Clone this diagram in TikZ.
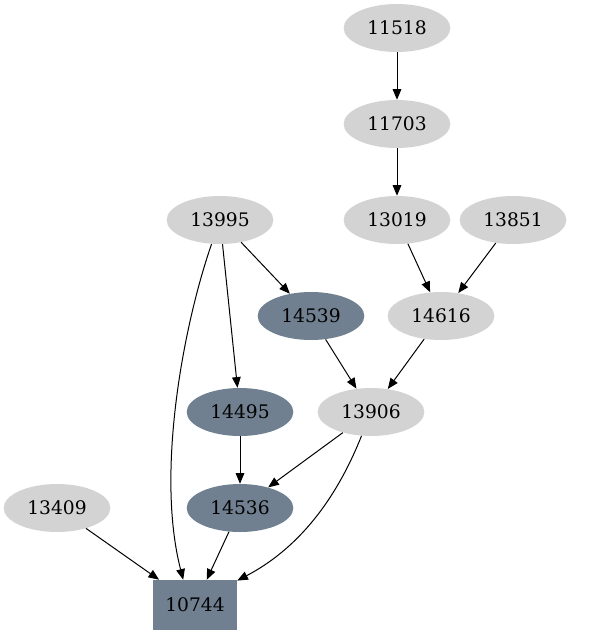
\documentclass[tikz,border=0pt]{standalone}
\usepackage{fontspec}
\setmainfont{DejaVu Serif}
\usetikzlibrary{arrows.meta,shapes.geometric}
\definecolor{lgray}{HTML}{D3D3D3}
\definecolor{sgray}{HTML}{708090}
\begin{document}
\begin{tikzpicture}[x=0.75pt,y=-0.75pt,
  every node/.style={font=\fontsize{14}{16}\selectfont},
  lnode/.style={ellipse,fill=lgray,minimum width=80pt,minimum height=36pt,inner sep=0pt},
  dnode/.style={ellipse,fill=sgray,minimum width=80pt,minimum height=36pt,inner sep=0pt},
  bnode/.style={rectangle,fill=sgray,minimum width=63pt,minimum height=37.5pt,inner sep=0pt},
  edge/.style={draw=black,line width=0.75pt,-{Triangle[length=8pt,width=6.5pt]}}]
\useasboundingbox (0,0) rectangle (589,635);
\node[lnode] (n11518) at (397,28) {11518};
\node[lnode] (n11703) at (397,124) {11703};
\node[lnode] (n13019) at (397,220) {13019};
\node[lnode] (n13851) at (513,220) {13851};
\node[lnode] (n13995) at (220,220) {13995};
\node[dnode] (n14539) at (311,316) {14539};
\node[lnode] (n14616) at (441,316) {14616};
\node[dnode] (n14495) at (240,412) {14495};
\node[lnode] (n13906) at (371,412) {13906};
\node[lnode] (n13409) at (57,508) {13409};
\node[dnode] (n14536) at (240,508) {14536};
\node[bnode] (n10744) at (195,605) {10744};
\draw[edge] (n11518) -- (n11703);
\draw[edge] (n11703) -- (n13019);
\draw[edge] (n13019) -- (n14616);
\draw[edge] (n13851) -- (n14616);
\draw[edge] (n13995) -- (n14539);
\draw[edge] (n13995) -- (n14495);
\draw[edge] (n13995) .. controls (185,320) and (155,470) .. (n10744.115);
\draw[edge] (n14539) -- (n13906);
\draw[edge] (n14616) -- (n13906);
\draw[edge] (n13906) -- (n14536);
\draw[edge] (n13906) .. controls (340,490) and (305,545) .. (n10744.30);
\draw[edge] (n14495) -- (n14536);
\draw[edge] (n14536) -- (n10744);
\draw[edge] (n13409) -- (n10744);
\end{tikzpicture}
\end{document}
